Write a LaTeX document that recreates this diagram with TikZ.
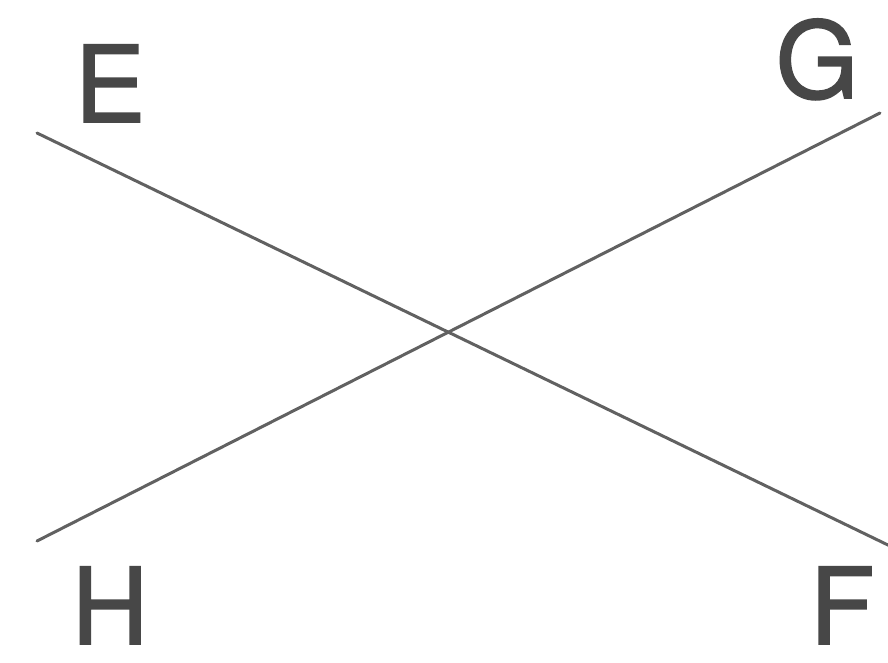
\documentclass[tikz,border=0pt]{standalone}
\usepackage{fontspec}
\newfontfamily\lblfont{TeX Gyre Heros}[FakeBold=1.6]
\begin{document}
\begin{tikzpicture}[x=1pt,y=-1pt,
  ray/.style={draw=black!62,line width=3pt,line cap=round},
  lbl/.style={inner sep=0pt,anchor=base,text=black!72,font=\fontsize{106}{106}\lblfont}]
\useasboundingbox (0,0) rectangle (888,663);
\fill[white] (0,0) rectangle (888,663);
\coordinate (e) at (37,133);
\coordinate (f) at (890,546);
\coordinate (h) at (37,541);
\coordinate (g) at (880,113);
\draw[ray] (e) -- (f);
\draw[ray] (h) -- (g);
\node[lbl] (E) at (110,122) {E};
\node[lbl] (G) at (817,98) {G};
\node[lbl] (H) at (110,644) {H};
\node[lbl] (F) at (842,644) {F};
\end{tikzpicture}
\end{document}
